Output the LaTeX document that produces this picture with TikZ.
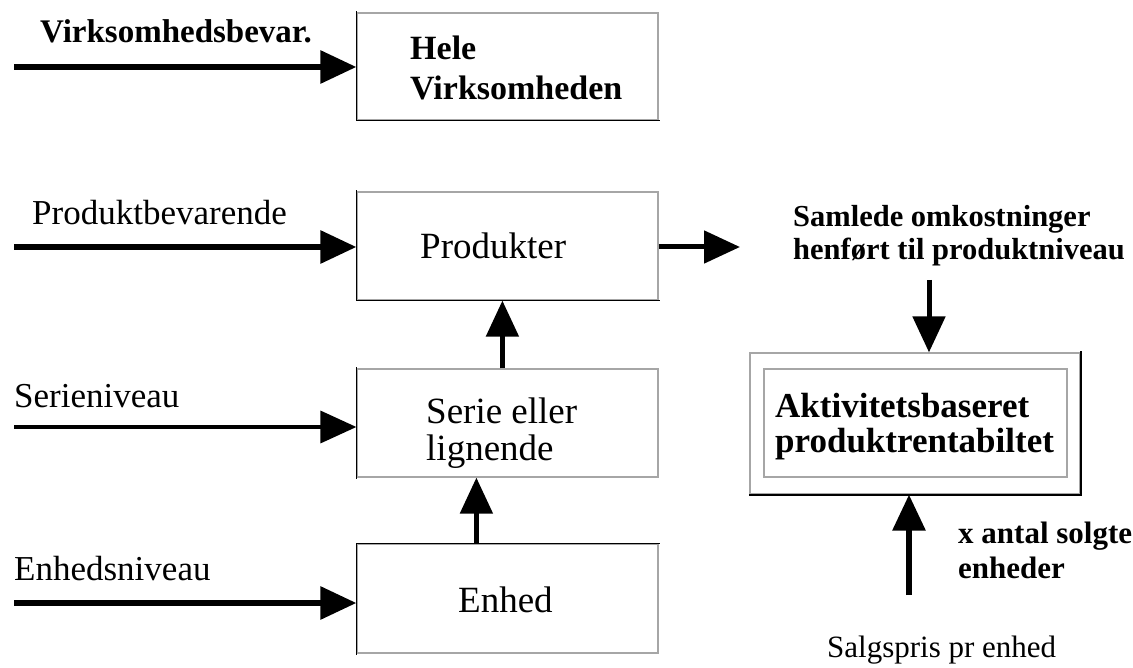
\documentclass[tikz,border=0pt]{standalone}
\usepackage{fontspec}
\setmainfont{Liberation Serif}
\usetikzlibrary{arrows.meta}
\usetikzlibrary{calc}

\begin{document}
\begin{tikzpicture}[x=1pt, y=-1pt]
        % ================= styles =================
        \tikzset{
            % box: thin grey frame, one or two sides drawn black afterwards
            box/.style={rectangle, draw=black!35, line width=1.2pt, inner sep=0pt},
            side/.style={line width=1.8pt, line cap=rect},
            % texts (multi-line texts sit on the baseline of their last line)
            lbl/.style={anchor=base west, inner sep=0pt, font=\fontsize{35}{40}\selectfont},
            blbl/.style={anchor=base west, inner sep=0pt, font=\fontsize{33}{35}\selectfont\bfseries},
            % arrows
            arr/.style={line width=6pt, -{Triangle[length=36pt, width=32pt]}},
            thinarr/.style={arr, line width=3.5pt}
        }
        \useasboundingbox (0,0) rectangle (1133,668);

        % ================= 1. boxes on the left =================
        \node[box, minimum width=301pt, minimum height=107pt] (hele)  at (507.5,66.5) {};
        \node[box, minimum width=301pt, minimum height=108pt] (prod)  at (507.5,246) {};
        \node[box, minimum width=301pt, minimum height=108pt] (serie) at (507.5,423) {};
        \node[box, minimum width=301pt, minimum height=109pt] (enhed) at (507.5,598.5) {};

        \draw[side] (hele.north west) -- (hele.south west) -- (hele.south east);
        \draw[side] (prod.north west) -- (prod.south west) -- (prod.south east);
        \draw[side] (serie.north west) -- (serie.south west);
        \draw[side] (enhed.south west) -- (enhed.north west) -- (enhed.north east);

        \node[blbl, align=left, font=\fontsize{34}{40}\selectfont\bfseries] (thele) at (410,100) {Hele\\Virksomheden};
        \node[lbl, font=\fontsize{37}{40}\selectfont] (tprod) at (420,259) {Produkter};
        \node[lbl, align=left, font=\fontsize{37}{37}\selectfont] (tserie) at (426,460) {Serie eller\\lignende};
        \node[lbl, font=\fontsize{37}{40}\selectfont] (tenhed) at (458,612) {Enhed};

        % ================= 2. incoming levels =================
        \coordinate (s1) at (14,67);
        \coordinate (s2) at (14,247);
        \coordinate (s3) at (14,427);
        \coordinate (s4) at (14,603);

        \node[blbl] (tvirk)   at (40,43)  {Virksomhedsbevar.};
        \node[lbl]  (tprodb)  at (32,225) {Produktbevarende};
        \node[lbl]  (tserien) at (14,407) {Serieniveau};
        \node[lbl]  (tenhn)   at (14,580) {Enhedsniveau};

        \draw[arr]     (s1) -- (s1 -| hele.west);
        \draw[arr]     (s2) -- (s2 -| prod.west);
        \draw[thinarr] (s3) -- (s3 -| serie.west);
        \draw[arr]     (s4) -- (s4 -| enhed.west);

        % upwards through the hierarchy
        \draw[arr, line width=5pt] (enhed.north west) ++(120,0) coordinate (e1) -- (e1 |- serie.south);
        \draw[arr, line width=5pt] (serie.north west) ++(146,0) coordinate (e2) -- (e2 |- prod.south);

        % ================= 3. product profitability =================
        \coordinate (pr) at (740,247);
        \draw[arr, line width=5pt] (prod.east |- pr) -- (pr);

        \node[blbl, align=left, font=\fontsize{30.5}{33}\selectfont\bfseries] (tsaml) at (793,260) {Samlede omkostninger\\henført til produktniveau};

        \node[box, minimum width=330pt, minimum height=141pt] (akto) at (915,423.5) {};
        \draw[side] (akto.north east) -- (akto.south east) -- (akto.south west);
        \node[box, minimum width=303pt, minimum height=108pt] (akti) at (915.5,423) {};
        \node[blbl, align=left, font=\fontsize{35}{35}\selectfont\bfseries] (takt) at (775,452) {Aktivitetsbaseret\\produktrentabiltet};

        \coordinate (d1) at (929,280);
        \draw[arr, line width=5pt] (d1) -- (d1 |- akto.north);

        \coordinate (u1) at (909,595);
        \draw[arr] (u1) -- (u1 |- akto.south);

        \node[blbl, align=left, font=\fontsize{31}{35}\selectfont\bfseries] (tantal) at (958,578) {x antal solgte\\enheder};
        \node[lbl, font=\fontsize{31}{35}\selectfont] (tsalg) at (827,657) {Salgspris pr enhed};

    \end{tikzpicture}
\end{document}
